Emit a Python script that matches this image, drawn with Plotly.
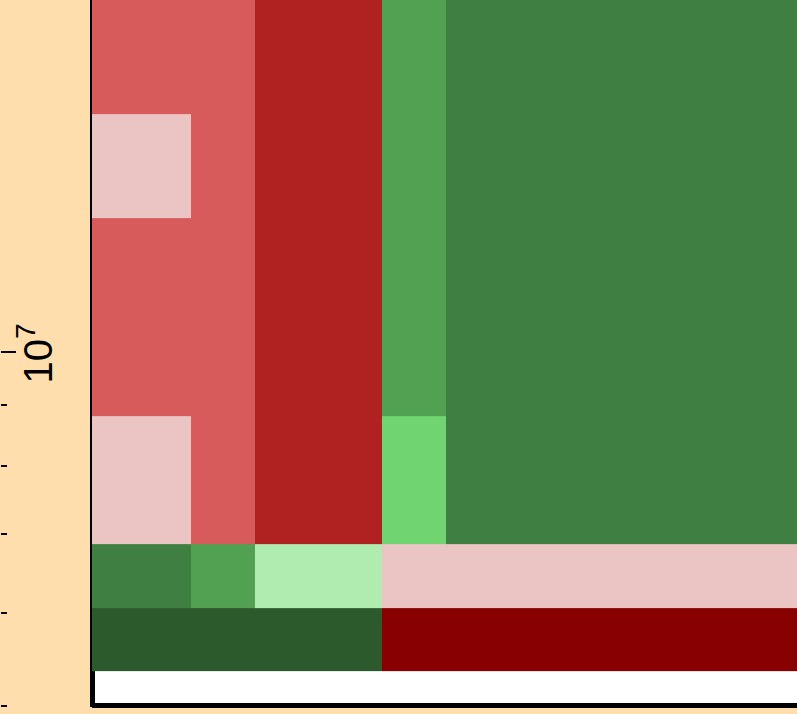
import plotly.graph_objects as go

# Column edges (x) and row edges (y, log scale) of the level map
x_edges = [0, 1.55, 2.55, 4.52, 5.52, 11]
y_edges = [5.35e6, 6.05e6, 6.86e6, 8.81e6, 1.297e7, 1.592e7, 2.5e7]

# Level of each cell, rows listed bottom to top
levels = [
    [8, 8, 8, 0, 0],
    [7, 6, 4, 3, 3],
    [3, 2, 1, 5, 7],
    [2, 2, 1, 6, 7],
    [3, 2, 1, 6, 7],
    [2, 2, 1, 6, 7],
]

# One colour per level, dark red through to dark green
level_colors = [
    "#880000", "#B02121", "#D85B5B", "#EBC4C4",
    "#B0ECB0", "#70D470", "#52A052", "#407F42", "#2D5A2D",
]

y_range = [6.69796, 7.29864]

n = len(level_colors)
colorscale = []
for i, c in enumerate(level_colors):
    colorscale.append([i / n, c])
    colorscale.append([(i + 1) / n, c])

fig = go.Figure()
fig.add_trace(go.Heatmap(
    x=x_edges, y=y_edges, z=levels,
    colorscale=colorscale, zmin=-0.5, zmax=n - 0.5,
    showscale=False, hoverinfo="skip",
))
# empty trace that carries the tick axis
fig.add_trace(go.Scatter(x=[], y=[], yaxis="y2", showlegend=False))

left = 92 / 797
plot_h = 714 - 7
fig.update_layout(
    width=797, height=714,
    margin=dict(l=0, r=0, t=0, b=7, pad=0),
    paper_bgcolor="#FFDEAD",
    plot_bgcolor="white",
    showlegend=False,
    xaxis=dict(
        domain=[left, 1], range=[0, 11],
        anchor="free", position=2 / plot_h,
        showline=True, linewidth=5, linecolor="black",
        layer="below traces",
        showticklabels=False, ticks="", showgrid=False, zeroline=False,
    ),
    yaxis=dict(
        type="log", range=y_range,
        anchor="free", position=left,
        showline=True, linewidth=5, linecolor="black",
        layer="below traces",
        showticklabels=False, ticks="", showgrid=False, zeroline=False,
    ),
    yaxis2=dict(
        type="log", range=y_range, overlaying="y",
        anchor="free", position=0, side="left",
        showline=False, showgrid=False, zeroline=False,
        ticks="inside", ticklen=15, tickwidth=2, tickcolor="black",
        dtick=1, exponentformat="power",
        ticklabelposition="inside", tickangle=-90,
        ticklabelstandoff=-9, ticklabelshift=8,
        tickfont=dict(family="Arial", size=32, color="black"),
        minor=dict(ticks="inside", ticklen=6, tickwidth=2,
                   tickcolor="black", dtick="D1", showgrid=False),
    ),
)

fig.write_html("out.html")
